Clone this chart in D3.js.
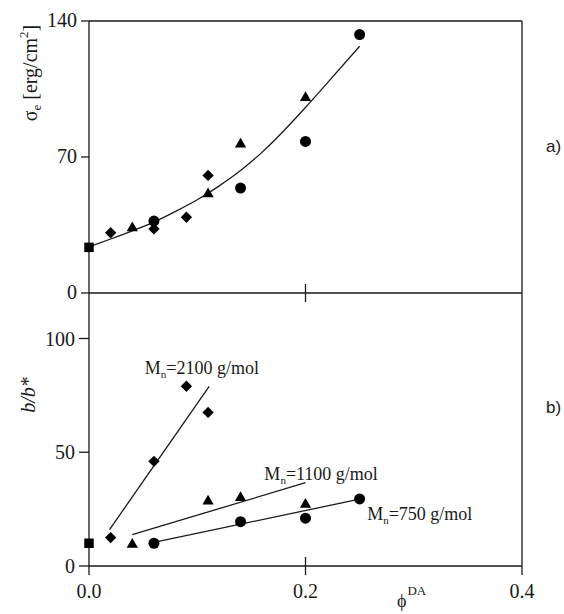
<!DOCTYPE html>
<html>
<head>
<meta charset="utf-8">
<script src="https://cdn.jsdelivr.net/npm/d3@7"></script>
<style>
  body { margin: 0; background: #fff; }
</style>
</head>
<body>
<div id="chart"></div>
<script>
// panel a) sigma_e vs phi_DA
var sigmaSquare = [[0, 23.5]];
var sigmaDiamond = [[0.02, 31], [0.06, 33], [0.09, 39], [0.11, 60.5]];
var sigmaTriangle = [[0.04, 33.5], [0.11, 51], [0.14, 76.5], [0.2, 100.5]];
var sigmaCircle = [[0.06, 37], [0.14, 54], [0.2, 78], [0.25, 133]];
var sigmaFit = [[0, 23.8], [0.02, 27.8], [0.04, 32], [0.06, 36.5], [0.08, 42], [0.1, 48],
	[0.12, 55], [0.14, 63], [0.16, 72.5], [0.18, 83.5], [0.2, 95.5], [0.22, 108], [0.25, 127]];

// panel b) b/b* vs phi_DA
var ratioSquare = [[0, 10]];
var ratioDiamond = [[0.02, 12.5], [0.06, 46], [0.09, 79], [0.11, 67.5]];
var ratioTriangle = [[0.04, 9.5], [0.11, 28.5], [0.14, 30], [0.2, 27]];
var ratioCircle = [[0.06, 10], [0.14, 19.5], [0.2, 21], [0.25, 29.5]];
var fit2100 = [[0.019, 16], [0.111, 79]];
var fit1100 = [[0.04, 13.8], [0.2, 36.6]];
var fit750 = [[0.062, 10.6], [0.25, 29.4]];

// labels for the fit lines: [x, y, number]
var fitLabels = [[0.0516, 84.6, "2100"], [0.162, 37.9, "1100"], [0.257, 20.3, "750"]];

var xTicks = [0, 0.2, 0.4];
var sigmaTicks = [0, 70, 140];
var ratioTicks = [0, 50, 100];

var width = 564, height = 614;
var ink = "#1a1a1a";
var serif = "'Liberation Serif', 'Times New Roman', Times, serif";

var svg = d3.select("#chart")
	.append("svg")
		.attr("width", width)
		.attr("height", height)
		.attr("font-family", serif);

// scales
var x = d3.scaleLinear().domain([0, 0.4]).range([89, 522]);
var yA = d3.scaleLinear().domain([0, 140]).range([293, 21]);
var yB = d3.scaleLinear().domain([0, 120]).range([566, 293]);

var frame = svg.append("g")
	.attr("stroke", ink)
	.attr("stroke-width", 1.3)
	.attr("fill", "none");

// frame lines
frame.append("line").attr("x1", x(0)).attr("x2", x(0.4)).attr("y1", yA(140)).attr("y2", yA(140));
frame.append("line").attr("x1", x(0.4)).attr("x2", x(0.4)).attr("y1", yA(140)).attr("y2", yB(0) + 9);
frame.append("line").attr("x1", x(0)).attr("x2", x(0)).attr("y1", yA(140)).attr("y2", yB(0) + 9);
frame.append("line").attr("x1", x(0)).attr("x2", x(0.4)).attr("y1", yA(0)).attr("y2", yA(0));
frame.append("line").attr("x1", x(0)).attr("x2", x(0.4)).attr("y1", yB(0)).attr("y2", yB(0));

// y ticks (outward)
sigmaTicks.forEach(function(t){
	frame.append("line").attr("x1", x(0) - 8).attr("x2", x(0)).attr("y1", yA(t)).attr("y2", yA(t));
});
ratioTicks.forEach(function(t){
	frame.append("line").attr("x1", x(0) - 10).attr("x2", x(0)).attr("y1", yB(t)).attr("y2", yB(t));
});
// x tick at 0.2 crossing both horizontal axes
[yA(0), yB(0)].forEach(function(yy){
	frame.append("line").attr("x1", x(0.2)).attr("x2", x(0.2)).attr("y1", yy - 9).attr("y2", yy + 9);
});

// tick labels
svg.selectAll(".ytA")
	.data(sigmaTicks)
	.enter().append("text")
		.attr("x", x(0) - 12)
		.attr("y", function(d){ return yA(d) + 6 })
		.attr("text-anchor", "end")
		.attr("font-size", "20px")
		.attr("fill", ink)
		.text(function(d){ return d });

svg.selectAll(".ytB")
	.data(ratioTicks)
	.enter().append("text")
		.attr("x", x(0) - 14)
		.attr("y", function(d){ return yB(d) + 7 })
		.attr("text-anchor", "end")
		.attr("font-size", "20px")
		.attr("fill", ink)
		.text(function(d){ return d });

svg.selectAll(".xt")
	.data(xTicks)
	.enter().append("text")
		.attr("x", function(d){ return x(d) })
		.attr("y", 598)
		.attr("text-anchor", "middle")
		.attr("font-size", "20px")
		.attr("fill", ink)
		.text(function(d){ return d3.format(".1f")(d) });

// axis titles
var sigLab = svg.append("text")
	.attr("transform", "translate(37,73) rotate(-90)")
	.attr("text-anchor", "middle")
	.attr("font-size", "20px")
	.attr("fill", ink);
sigLab.append("tspan").text("σ");
sigLab.append("tspan").attr("font-size", "13px").attr("dy", 4).text("e");
sigLab.append("tspan").attr("dy", -4).text(" [erg/cm");
sigLab.append("tspan").attr("font-size", "13px").attr("dy", -9).text("2");
sigLab.append("tspan").attr("dy", 9).text("]");

svg.append("text")
	.attr("transform", "translate(35,395) rotate(-90)")
	.attr("text-anchor", "middle")
	.attr("font-size", "20px")
	.attr("fill", ink)
	.style("font-style", "italic")
	.text("b/b*");

var xLab = svg.append("text")
	.attr("x", 397)
	.attr("y", 607)
	.attr("font-size", "18px")
	.attr("fill", ink);
xLab.append("tspan").text("ϕ");
xLab.append("tspan").attr("font-size", "13px").attr("dy", -12).attr("dx", 1).text("DA");

// panel tags
[["a)", 152], ["b)", 413]].forEach(function(p){
	svg.append("text")
		.attr("x", 546)
		.attr("y", p[1])
		.attr("font-size", "17px")
		.attr("fill", ink)
		.attr("font-family", "'Liberation Sans', Arial, sans-serif")
		.text(p[0]);
});

// fit lines
var lineA = d3.line()
	.x(function(d){ return x(d[0]) })
	.y(function(d){ return yA(d[1]) })
	.curve(d3.curveMonotoneX);
var lineB = d3.line()
	.x(function(d){ return x(d[0]) })
	.y(function(d){ return yB(d[1]) });

svg.append("path").datum(sigmaFit)
	.attr("d", lineA)
	.attr("fill", "none").attr("stroke", ink).attr("stroke-width", 1.3);

[fit2100, fit1100, fit750].forEach(function(f){
	svg.append("path").datum(f)
		.attr("d", lineB)
		.attr("fill", "none").attr("stroke", ink).attr("stroke-width", 1.3);
});

// markers
var shapes = {
	square: { type: d3.symbolSquare, size: 90, rot: 0 },
	diamond: { type: d3.symbolSquare, size: 64, rot: 45 },
	triangle: { type: d3.symbolTriangle, size: 55, rot: 0 },
	circle: { type: d3.symbolCircle, size: 95, rot: 0 }
};

function drawPoints(data, shape, yScale) {
	var s = shapes[shape];
	svg.append("g").selectAll("path")
		.data(data)
		.enter().append("path")
			.attr("d", d3.symbol().type(s.type).size(s.size))
			.attr("transform", function(d){
				return "translate(" + x(d[0]) + "," + yScale(d[1]) + ") rotate(" + s.rot + ")";
			})
			.attr("fill", "#000");
}

drawPoints(sigmaSquare, "square", yA);
drawPoints(sigmaDiamond, "diamond", yA);
drawPoints(sigmaTriangle, "triangle", yA);
drawPoints(sigmaCircle, "circle", yA);

drawPoints(ratioSquare, "square", yB);
drawPoints(ratioDiamond, "diamond", yB);
drawPoints(ratioTriangle, "triangle", yB);
drawPoints(ratioCircle, "circle", yB);

// M_n labels
fitLabels.forEach(function(l){
	var t = svg.append("text")
		.attr("x", x(l[0]))
		.attr("y", yB(l[1]))
		.attr("font-size", "18px")
		.attr("fill", ink);
	t.append("tspan").text("M");
	t.append("tspan").attr("font-size", "11px").attr("dy", 4).text("n");
	t.append("tspan").attr("dy", -4).text("=" + l[2] + " g/mol");
});
</script>
</body>
</html>
